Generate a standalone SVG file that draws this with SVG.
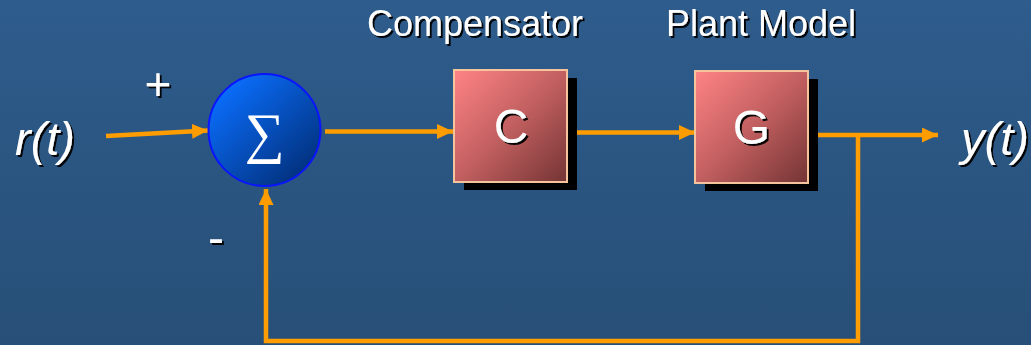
<svg xmlns="http://www.w3.org/2000/svg" width="1031" height="345" viewBox="0 0 1031 345">
  <defs>
    <linearGradient id="bg" x1="0" y1="0" x2="0" y2="1">
      <stop offset="0" stop-color="#2e5c8c"/>
      <stop offset="1" stop-color="#274f77"/>
    </linearGradient>
    <linearGradient id="sumFill" x1="0.15" y1="0.15" x2="0.85" y2="0.9">
      <stop offset="0" stop-color="#0a6cf8"/>
      <stop offset="1" stop-color="#02317e"/>
    </linearGradient>
    <linearGradient id="blockFill" x1="0" y1="0" x2="1" y2="1">
      <stop offset="0" stop-color="#ff8486"/>
      <stop offset="0.5" stop-color="#c25f60"/>
      <stop offset="1" stop-color="#743434"/>
    </linearGradient>
    <filter id="shadow" x="-10%" y="-10%" width="130%" height="140%">
      <feDropShadow dx="2" dy="2" stdDeviation="0.4" flood-color="#000" flood-opacity="0.95"/>
    </filter>
    <marker id="arrow" viewBox="0 0 16 15" refX="16" refY="7.5" markerWidth="16" markerHeight="15" markerUnits="userSpaceOnUse" orient="auto">
      <path d="M0,0 L16,7.5 L0,15 Z" fill="#ff9c00"/>
    </marker>
  </defs>
  <style>
    .lbl { font-family: "Liberation Sans", Arial, sans-serif; fill: #ffffff; filter: url(#shadow); }
    .sig { font-family: "Liberation Sans", Arial, sans-serif; font-style: italic; font-size: 47px; fill: #ffffff; filter: url(#shadow); }
    .wire { fill: none; stroke: #ff9c00; stroke-width: 4.5; }
    .block { fill: url(#blockFill); stroke: #f6c49c; stroke-width: 2; }
    .drop { fill: #000000; }
  </style>

  <rect x="0" y="0" width="1031" height="345" fill="url(#bg)"/>

  <!-- signal connections -->
  <g id="connectors">
    <path class="wire" d="M106,136 L208,130.5" marker-end="url(#arrow)"/>
    <path class="wire" d="M325,131.5 L453,131.5" marker-end="url(#arrow)"/>
    <path class="wire" d="M577,132.5 L695,132.5" marker-end="url(#arrow)"/>
    <path class="wire" d="M818,135 L938,135" marker-end="url(#arrow)"/>
    <path class="wire" d="M858,135 L858,341 L266,341 L266,189" marker-end="url(#arrow)"/>
  </g>

  <!-- summing junction -->
  <g id="sum">
    <circle cx="264.5" cy="130" r="56" fill="url(#sumFill)" stroke="#0a14ff" stroke-width="2"/>
    <text x="264.5" y="152" text-anchor="middle" font-family="'Liberation Serif', 'Times New Roman', serif" font-size="56" fill="#ffffff">∑</text>
  </g>

  <!-- compensator block -->
  <g id="compensator">
    <rect class="drop" x="464" y="78" width="113" height="112"/>
    <rect class="block" x="454" y="70" width="113" height="112"/>
    <text class="lbl" x="511" y="143" text-anchor="middle" font-size="48">C</text>
  </g>

  <!-- plant block -->
  <g id="plant">
    <rect class="drop" x="705" y="79" width="113" height="112"/>
    <rect class="block" x="695" y="71" width="113" height="112"/>
    <text class="lbl" x="751.5" y="144" text-anchor="middle" font-size="48">G</text>
  </g>

  <!-- titles and signs -->
  <g id="labels">
    <text class="lbl" x="475" y="36" text-anchor="middle" font-size="36">Compensator</text>
    <text class="lbl" x="761" y="36" text-anchor="middle" font-size="36">Plant Model</text>
    <text class="lbl" x="158" y="100" text-anchor="middle" font-size="46">+</text>
    <text class="lbl" x="216" y="254" text-anchor="middle" font-size="48">-</text>
  </g>

  <g id="input">
    <text class="sig" x="15" y="155">r(t)</text>
  </g>
  <g id="output">
    <text class="sig" x="961" y="155">y(t)</text>
  </g>
</svg>
